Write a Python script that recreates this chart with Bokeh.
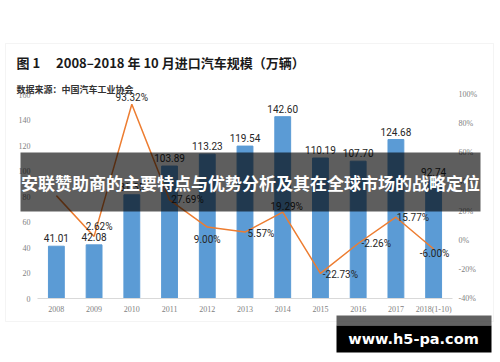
from bokeh.plotting import figure
from bokeh.models import (ColumnDataSource, Range1d, LinearAxis, FixedTicker,
                          PrintfTickFormatter, LabelSet, Label, BoxAnnotation)
from bokeh.core.properties import value
from bokeh.embed import file_html
from bokeh.resources import INLINE

# ---------------- data ----------------
years = ["2008", "2009", "2010", "2011", "2012", "2013", "2014", "2015", "2016", "2017", "2018(1-10)"]
imports = [41.01, 42.08, 81.35, 103.89, 113.23, 119.54, 142.60, 110.19, 107.70, 124.68, 92.74]
growth = [30.6, 2.62, 93.32, 27.69, 9.00, 5.57, 19.29, -22.73, -2.26, 15.77, -6.00]
left_ticks = [0, 20, 40, 60, 80, 100, 120, 140, 160]
right_ticks = [-40, -20, 0, 20, 40, 60, 80, 100]

title_text = "图 1\u3000 2008–2018 年 10 月进口汽车规模（万辆）"
source_text = "数据来源：中国汽车工业协会"
banner_text = "安联赞助商的主要特点与优势分析及其在全球市场的战略定位"
mark_text = "www.h5-pa.com"

# ---------------- layout (pixels) ----------------
W, H = 500, 362
PL, PR, PT, PB = 37, 452, 94, 298      # plot area edges on the page

# ---------------- label styling (pixel offsets) ----------------
pct_dx = [0, 5, 0, 18, 0, 16, 4, 20, 18, 17, 1]
pct_dy = [0, 10, 7, 0, -12, -1, 6, -1, 0, 0, -5]
pct_show = [False, True, True, True, True, True, True, True, True, True, True]

n = len(years)
idx = list(range(n))
src = ColumnDataSource(dict(
    x=idx,
    imports=imports,
    imp_txt=["%.2f" % v for v in imports],
    growth=growth,
    g_txt=[("%.2f%%" % g) if s else "" for g, s in zip(growth, pct_show)],
    dx=pct_dx,
    dy=pct_dy,
))


def ext_range(lo, hi, p_lo, p_hi, total, inverted=False):
    """Extend data range [lo, hi], drawn between pixels p_lo..p_hi, to the whole canvas."""
    if inverted:  # vertical: p_lo is bottom pixel (larger), p_hi is top pixel
        u = (p_lo - p_hi) / (hi - lo)
        return Range1d(lo - (total - p_lo) / u, hi + p_hi / u)
    u = (p_hi - p_lo) / (hi - lo)
    return Range1d(lo - p_lo / u, hi + (total - p_hi) / u)


ymin, ymax = min(left_ticks), max(left_ticks)
rmin, rmax = min(right_ticks), max(right_ticks)

p = figure(width=W, height=H,
           x_range=ext_range(-0.5, n - 0.5, PL, PR, W),
           y_range=ext_range(ymin, ymax, PB, PT, H, inverted=True),
           output_backend="svg", toolbar_location=None,
           min_border=0, min_border_left=0, min_border_right=0,
           min_border_top=0, min_border_bottom=0)
p.extra_y_ranges = {"pct": ext_range(rmin, rmax, PB, PT, H, inverted=True),
                    "py": Range1d(H, 0)}
p.extra_x_ranges = {"px": Range1d(0, W)}

p.outline_line_color = None
p.background_fill_color = "white"
p.border_fill_color = "white"
p.xgrid.visible = False
p.ygrid.visible = False

AX_FONT = "Liberation Serif"
AX_COLOR = "#7f7f7f"

# card (drawn first, underneath)
p.add_layout(BoxAnnotation(left=5, right=493, top=43, bottom=321,
                           x_range_name="px", y_range_name="py",
                           fill_color="white", fill_alpha=1.0,
                           line_color="#d9d9d9", line_width=1, level="underlay"))


def style_axis(ax, standoff):
    ax.major_tick_line_color = None
    ax.minor_tick_line_color = None
    ax.major_tick_out = 0
    ax.major_tick_in = 0
    ax.minor_tick_out = 0
    ax.minor_tick_in = 0
    ax.major_label_text_font_size = "8px"
    ax.major_label_text_color = AX_COLOR
    ax.major_label_text_font = AX_FONT
    ax.major_label_standoff = standoff


yax = p.yaxis[0]
yax.fixed_location = -0.5
yax.bounds = (ymin, ymax)
yax.ticker = FixedTicker(ticks=left_ticks)
yax.axis_line_color = None
style_axis(yax, 7)

raxis = LinearAxis(y_range_name="pct", ticker=FixedTicker(ticks=right_ticks),
                   formatter=PrintfTickFormatter(format="%d%%"))
raxis.fixed_location = n - 0.5
raxis.bounds = (rmin, rmax)
raxis.axis_line_color = None
style_axis(raxis, 6)
p.add_layout(raxis, "right")

xax = p.xaxis[0]
xax.fixed_location = ymin
xax.bounds = (-0.5, n - 0.5)
xax.ticker = FixedTicker(ticks=idx)
xax.major_label_overrides = {i: y for i, y in zip(idx, years)}
xax.axis_line_color = "#d9d9d9"
style_axis(xax, 6)

# marks
p.vbar(x="x", top="imports", bottom=ymin, width=0.42, color="#5B9BD5", source=src)
p.line(x="x", y="growth", y_range_name="pct", source=src,
       line_color="#ED7D31", line_width=1.5)

VAL_FONT = "'Liberation Sans Narrow', Roboto, sans-serif"
p.add_layout(LabelSet(x="x", y="imports", text="imp_txt", source=src,
                      text_align="center", text_baseline="bottom", y_offset=4,
                      text_font=value(VAL_FONT), text_font_size="10px",
                      text_color="#262626"))
p.add_layout(LabelSet(x="x", y="growth", text="g_txt", source=src,
                      y_range_name="pct", x_offset="dx", y_offset="dy",
                      text_align="center", text_baseline="middle",
                      text_font=value(VAL_FONT), text_font_size="10px",
                      text_color="#262626"))

# title + subtitle
p.add_layout(Label(x=16, y=62, x_range_name="px", y_range_name="py",
                   text=title_text, text_baseline="middle", text_align="left",
                   text_font="Noto Sans CJK SC", text_font_style="bold",
                   text_font_size="13px", text_color="#1a1a1a"))
p.add_layout(Label(x=16, y=89, x_range_name="px", y_range_name="py",
                   text=source_text, text_baseline="middle", text_align="left",
                   text_font="Noto Sans CJK SC", text_font_style="bold",
                   text_font_size="9px", text_color="#333333"))

# banner overlay
p.add_layout(BoxAnnotation(left=20, right=480, top=152, bottom=211,
                           x_range_name="px", y_range_name="py",
                           fill_color="black", fill_alpha=0.63, line_alpha=0))
p.add_layout(Label(x=250, y=182, x_range_name="px", y_range_name="py",
                   text=banner_text, text_baseline="middle", text_align="center",
                   text_font="Noto Sans CJK SC", text_font_style="bold",
                   text_font_size="17px", text_color="white"))

# watermark
p.add_layout(BoxAnnotation(left=336, right=491, top=315, bottom=325,
                           x_range_name="px", y_range_name="py",
                           fill_color="#3a3a3a", fill_alpha=0.8, line_alpha=0))
p.add_layout(BoxAnnotation(left=336, right=491, top=325, bottom=352,
                           x_range_name="px", y_range_name="py",
                           fill_color="black", fill_alpha=1.0, line_alpha=0))
p.add_layout(Label(x=413, y=338.5, x_range_name="px", y_range_name="py",
                   text=mark_text, text_baseline="middle", text_align="center",
                   text_font="DejaVu Sans", text_font_style="bold",
                   text_font_size="14.5px", text_color="white"))

open("out.html", "w").write(file_html(p, INLINE))
